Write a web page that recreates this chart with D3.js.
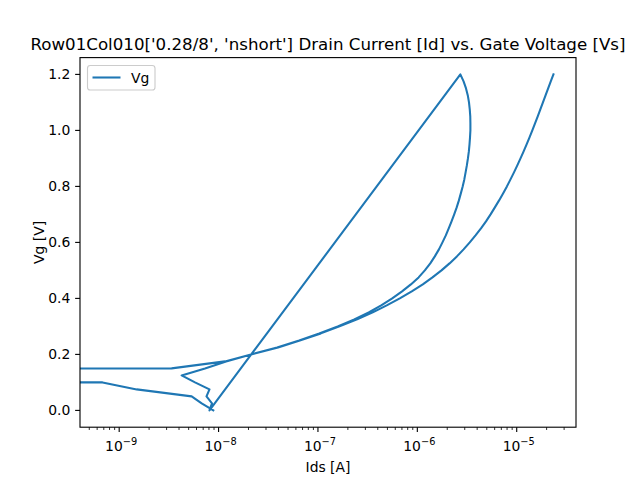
<!DOCTYPE html>
<html>
<head>
<meta charset="utf-8">
<script src="https://cdn.jsdelivr.net/npm/d3@7"></script>
<style>
  html, body { margin: 0; padding: 0; background: #fff; }
  svg { display: block; }
  text { font-family: "DejaVu Sans", sans-serif; fill: #000; }
</style>
</head>
<body>
<svg id="chart" width="640" height="480"></svg>
<script>
// ---- data ----
const titleText = "Row01Col010['0.28/8', 'nshort'] Drain Current [Id] vs. Gate Voltage [Vs]";
const xLabel = "Ids [A]";
const yLabel = "Vg [V]";
const seriesName = "Vg";

const vg = [0, 0.025, 0.05, 0.075, 0.1, 0.125, 0.15, 0.175, 0.2, 0.225, 0.25, 0.275, 0.3, 0.325, 0.35, 0.375,
  0.4, 0.425, 0.45, 0.475, 0.5, 0.525, 0.55, 0.575, 0.6, 0.625, 0.65, 0.675, 0.7, 0.725, 0.75, 0.775,
  0.8, 0.825, 0.85, 0.875, 0.9, 0.925, 0.95, 0.975, 1.0, 1.025, 1.05, 1.075, 1.1, 1.125, 1.15, 1.175, 1.2];

// first sweep (value 0 = non-positive current, clipped on the log axis)
const idsSweep1 = [8.85e-9, 6.76e-9, 5.36e-9, 1.50e-9, 6.80e-10, 0, 3.37e-9, 1.16e-8, 2.12e-8, 3.88e-8,
  6.47e-8, 1.03e-7, 1.58e-7, 2.32e-7, 3.24e-7, 4.33e-7, 5.59e-7, 7.02e-7, 8.61e-7, 1.03e-6,
  1.19e-6, 1.35e-6, 1.50e-6, 1.65e-6, 1.79e-6, 1.935e-6, 2.07e-6, 2.21e-6, 2.35e-6, 2.49e-6,
  2.62e-6, 2.74e-6, 2.86e-6, 2.97e-6, 3.06e-6, 3.15e-6, 3.23e-6, 3.30e-6, 3.35e-6, 3.39e-6,
  3.42e-6, 3.42e-6, 3.41e-6, 3.37e-6, 3.31e-6, 3.22e-6, 3.09e-6, 2.92e-6, 2.71e-6];

const idsSweep2 = [8.10e-9, 8.59e-9, 7.56e-9, 8.10e-9, 5.79e-9, 4.25e-9, 7.30e-9, 1.19e-8, 2.12e-8, 3.97e-8,
  6.57e-8, 1.07e-7, 1.65e-7, 2.48e-7, 3.56e-7, 4.92e-7, 6.66e-7, 8.79e-7, 1.135e-6, 1.42e-6,
  1.75e-6, 2.11e-6, 2.50e-6, 2.92e-6, 3.37e-6, 3.85e-6, 4.37e-6, 4.91e-6, 5.46e-6, 6.03e-6,
  6.65e-6, 7.29e-6, 7.97e-6, 8.66e-6, 9.39e-6, 1.014e-5, 1.092e-5, 1.174e-5, 1.258e-5, 1.346e-5,
  1.436e-5, 1.529e-5, 1.628e-5, 1.729e-5, 1.837e-5, 1.951e-5, 2.072e-5, 2.201e-5, 2.343e-5];

const yTicks = [0.0, 0.2, 0.4, 0.6, 0.8, 1.0, 1.2];
const xDecades = [-9, -8, -7, -6, -5];

// ---- layout ----
const m = { left: 80, right: 576, top: 57.6, bottom: 427.2 };
const color = "#1f77b4";

const points = vg.map((v, i) => ({ v, i: idsSweep1[i] }))
  .concat(vg.map((v, i) => ({ v, i: idsSweep2[i] })));

const positive = points.map(p => p.i).filter(d => d > 0);
const lo = Math.log10(d3.min(positive)), hi = Math.log10(d3.max(positive));
const padX = (hi - lo) * 0.05;
const x = d3.scaleLog().domain([Math.pow(10, lo - padX), Math.pow(10, hi + padX)]).range([m.left, m.right]);
const vmin = d3.min(vg), vmax = d3.max(vg), padY = (vmax - vmin) * 0.05;
const y = d3.scaleLinear().domain([vmin - padY, vmax + padY]).range([m.bottom, m.top]);

const svg = d3.select("#chart");

svg.append("defs").append("clipPath").attr("id", "plotclip")
  .append("rect").attr("x", m.left).attr("y", m.top)
  .attr("width", m.right - m.left).attr("height", m.bottom - m.top);

// line (non-positive values clipped like matplotlib)
const line = d3.line()
  .x(d => x(Math.max(d.i, 1e-300)))
  .y(d => y(d.v));

svg.append("path")
  .datum(points)
  .attr("clip-path", "url(#plotclip)")
  .attr("fill", "none")
  .attr("stroke", color)
  .attr("stroke-width", 2.08)
  .attr("stroke-linejoin", "round")
  .attr("stroke-linecap", "square")
  .attr("d", line);

// spines
svg.append("rect")
  .attr("x", m.left).attr("y", m.top)
  .attr("width", m.right - m.left).attr("height", m.bottom - m.top)
  .attr("fill", "none").attr("stroke", "#000").attr("stroke-width", 1.11);

// x axis ticks
const xAxisG = svg.append("g");
const [d0, d1] = x.domain();
const minorTicks = [];
for (let e = -11; e <= -4; e++) {
  for (let k = 2; k <= 9; k++) {
    const t = k * Math.pow(10, e);
    if (t >= d0 && t <= d1) minorTicks.push(t);
  }
}
xAxisG.selectAll("line.minor").data(minorTicks).enter().append("line")
  .attr("x1", d => x(d)).attr("x2", d => x(d))
  .attr("y1", m.bottom).attr("y2", m.bottom + 2.78)
  .attr("stroke", "#000").attr("stroke-width", 0.83);

const majorTicks = xDecades.map(e => ({ e, v: Math.pow(10, e) }));
xAxisG.selectAll("line.major").data(majorTicks).enter().append("line")
  .attr("x1", d => x(d.v)).attr("x2", d => x(d.v))
  .attr("y1", m.bottom).attr("y2", m.bottom + 4.86)
  .attr("stroke", "#000").attr("stroke-width", 1.11);

const xt = xAxisG.selectAll("text.xt").data(majorTicks).enter().append("text")
  .attr("x", d => x(d.v) + 2)
  .attr("y", m.bottom + 24)
  .attr("text-anchor", "middle")
  .attr("font-size", 13.9);
xt.append("tspan").text("10");
xt.append("tspan").attr("dy", -6).attr("font-size", 9.8).text(d => "\u2212" + Math.abs(d.e));

// y axis ticks
const yAxisG = svg.append("g");
yAxisG.selectAll("line").data(yTicks).enter().append("line")
  .attr("x1", m.left - 4.86).attr("x2", m.left)
  .attr("y1", d => y(d)).attr("y2", d => y(d))
  .attr("stroke", "#000").attr("stroke-width", 1.11);
yAxisG.selectAll("text").data(yTicks).enter().append("text")
  .attr("x", m.left - 4.86 - 4.86)
  .attr("y", d => y(d) + 5)
  .attr("text-anchor", "end")
  .attr("font-size", 13.9)
  .text(d => d.toFixed(1));

// axis labels
svg.append("text").attr("x", (m.left + m.right) / 2).attr("y", 472)
  .attr("text-anchor", "middle").attr("font-size", 13.9).text(xLabel);
svg.append("text")
  .attr("transform", `translate(${44},${(m.top + m.bottom) / 2}) rotate(-90)`)
  .attr("text-anchor", "middle").attr("font-size", 13.9).text(yLabel);

// title
svg.append("text").attr("x", (m.left + m.right) / 2).attr("y", 50)
  .attr("text-anchor", "middle").attr("font-size", 16.67).text(titleText);

// legend
const lg = svg.append("g");
lg.append("rect").attr("x", 87.5).attr("y", 65.5).attr("width", 67.5).attr("height", 24.5)
  .attr("rx", 2.8).attr("ry", 2.8)
  .attr("fill", "#fff").attr("fill-opacity", 0.8)
  .attr("stroke", "#cccccc").attr("stroke-width", 1.11);
lg.append("line").attr("x1", 92.5).attr("x2", 120.5).attr("y1", 77.5).attr("y2", 77.5)
  .attr("stroke", color).attr("stroke-width", 2.08);
lg.append("text").attr("x", 131).attr("y", 82.5).attr("font-size", 13.9).text(seriesName);
</script>
</body>
</html>
